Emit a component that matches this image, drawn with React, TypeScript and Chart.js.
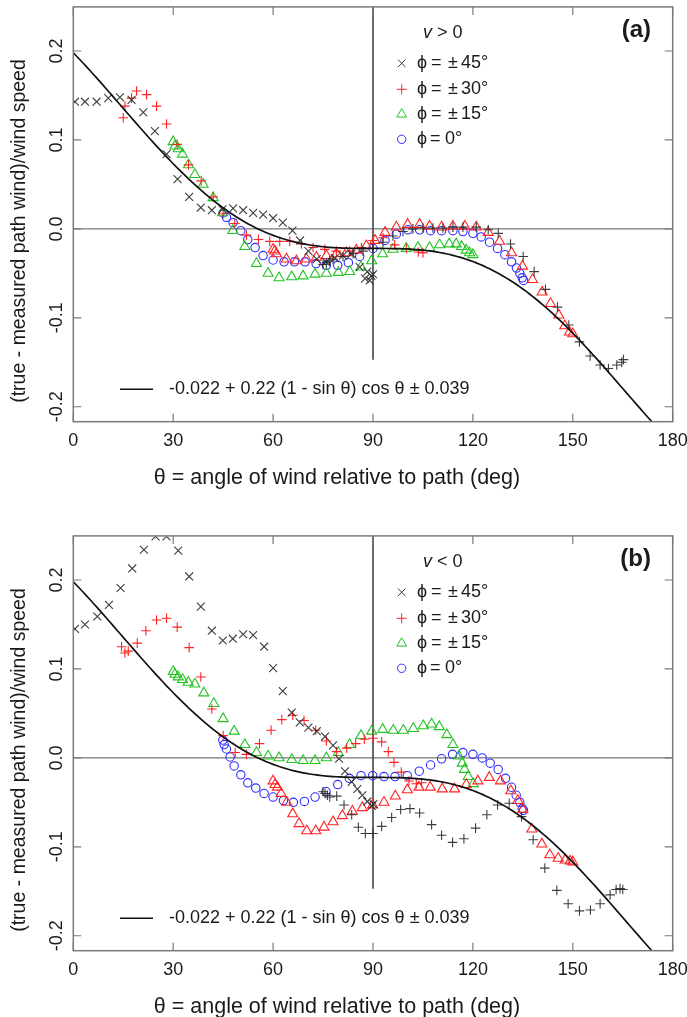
import React, { useEffect, useRef } from 'react';
import { Chart, registerables } from 'chart.js';

Chart.register(...registerables);

// ---------- axes ----------
const X_MIN = 0;
const X_MAX = 180;
const Y_MIN = -0.2168;
const Y_MAX = 0.2496;
const X_TICKS = [0, 30, 60, 90, 120, 150, 180];
const Y_TICKS = [-0.2, -0.1, 0, 0.1, 0.2];
const Y_TICK_LABELS = ['-0.2', '-0.1', '0.0', '0.1', '0.2'];
const X_TITLE = 'θ = angle of wind relative to path (deg)';
const Y_TITLE = '(true - measured path wind)/wind speed';
const VLINE_BOTTOM = -0.147;

// ---------- fitted model: a + b (1 - sin θ) cos θ ± sd ----------
const FIT_A = -0.022;
const FIT_B = 0.22;
const FIT_SD = 0.039;
const FIT_LABEL = `${FIT_A} + ${FIT_B} (1 - sin θ) cos θ ± ${FIT_SD}`;

// ---------- legend ----------
const LEGEND_ITEMS = ['± 45°', '± 30°', '± 15°', '0°'];

// ---------- panel (a): v > 0 ----------
const A_X45_T = [0.5, 3.5, 7, 10.5, 14, 17.5, 21, 24.5, 28, 31.3, 34.8, 38.3, 41.6, 44.8, 48, 51, 54, 57, 60, 62.9, 65.8, 68.1, 70.6, 73.1, 75.9, 78.5, 81, 83.5, 86, 87.6, 88.3, 89, 89.5, 90];
const A_X45_V = [0.143, 0.143, 0.143, 0.147, 0.148, 0.145, 0.131, 0.110, 0.084, 0.056, 0.036, 0.024, 0.021, 0.022, 0.023, 0.021, 0.018, 0.016, 0.012, 0.007, -0.002, -0.013, -0.025, -0.034, -0.037, -0.033, -0.030, -0.028, -0.043, -0.056, -0.048, -0.058, -0.053, -0.051];

const A_P45_T = [75, 76, 77, 78, 81, 84, 87, 90, 93, 96, 99, 102, 105, 108, 111, 114, 117, 121, 124.6, 127.6, 131.3, 135.1, 138.4, 141.8, 145.4, 148.8, 152, 155.2, 158.2, 160.7, 163.2, 164.7, 165.2];
const A_P45_V = [-0.040, -0.038, -0.036, -0.034, -0.031, -0.028, -0.025, -0.022, -0.015, -0.008, -0.003, 0.000, 0.001, 0.001, 0.001, 0.002, 0.002, 0.002, -0.001, -0.005, -0.017, -0.031, -0.048, -0.068, -0.088, -0.108, -0.127, -0.143, -0.153, -0.157, -0.153, -0.150, -0.147];

const A_P30_T = [15, 15.5, 17.5, 19, 22, 25, 28, 31.2, 34.6, 38.4, 42, 45, 48.5, 52, 55.6, 59, 62, 65, 68.5, 72, 75.5, 79, 83, 86.5, 90, 93, 96.5, 100, 103.6, 105];
const A_P30_V = [0.125, 0.138, 0.147, 0.155, 0.151, 0.138, 0.118, 0.095, 0.072, 0.054, 0.036, 0.017, 0.006, -0.007, -0.012, -0.014, -0.014, -0.014, -0.017, -0.021, -0.023, -0.025, -0.025, -0.021, -0.013, -0.010, -0.018, -0.022, -0.026, -0.027];

const A_T30_T = [60, 60.5, 61, 64, 67, 70, 73, 76, 79, 82, 85, 88, 90.6, 93.6, 97, 100.4, 104, 107, 110.6, 114, 117.6, 121, 124.6, 128, 131.6, 134.9, 137.9, 140.8, 143.3, 145.8, 147.6, 149, 150];
const A_T30_V = [-0.023, -0.025, -0.028, -0.034, -0.036, -0.034, -0.032, -0.030, -0.028, -0.027, -0.024, -0.019, -0.013, -0.004, 0.002, 0.005, 0.005, 0.003, 0.002, 0.003, 0.003, 0.002, -0.004, -0.014, -0.027, -0.042, -0.057, -0.071, -0.084, -0.097, -0.109, -0.116, -0.118];

const A_T15_T = [30, 30.5, 31.5, 32.8, 34.6, 36.5, 39, 42, 44.8, 47.9, 51.5, 55, 58.5, 61.8, 65.6, 69, 72.6, 76, 79.6, 83, 86.4, 89.6, 92.9, 96, 100, 103.5, 107, 110, 112.9, 115, 116.6, 118, 119, 120];
const A_T15_V = [0.098, 0.093, 0.090, 0.084, 0.072, 0.061, 0.050, 0.035, 0.018, -0.002, -0.020, -0.039, -0.050, -0.055, -0.054, -0.053, -0.051, -0.050, -0.049, -0.048, -0.043, -0.036, -0.028, -0.023, -0.022, -0.021, -0.021, -0.018, -0.017, -0.017, -0.020, -0.024, -0.027, -0.029];

const A_C0_T = [45, 46, 48, 50.3, 52.4, 54.6, 57, 60, 63.3, 66.4, 69.6, 72.9, 76, 79.4, 82.6, 86, 90, 93.6, 97, 100.5, 104, 107.3, 110.6, 114, 117, 120, 122.5, 125, 127.4, 129.6, 131.6, 133.1, 134.1, 134.8, 135.2];
const A_C0_V = [0.018, 0.013, 0.007, -0.002, -0.012, -0.021, -0.030, -0.035, -0.037, -0.037, -0.037, -0.039, -0.041, -0.041, -0.038, -0.031, -0.022, -0.013, -0.006, -0.001, -0.001, -0.002, -0.002, -0.002, -0.003, -0.005, -0.009, -0.015, -0.022, -0.029, -0.037, -0.044, -0.050, -0.055, -0.058];

// ---------- panel (b): v < 0 ----------
const B_X45_T = [0.5, 3.5, 7.2, 10.7, 14.2, 17.7, 21.2, 24.7, 28, 31.5, 34.8, 38.3, 41.6, 44.9, 47.9, 51, 54, 57.3, 60, 62.9, 65.6, 68, 70.6, 73.1, 75.6, 78, 79.8, 81.6, 83.6, 85.3, 86.8, 88.3, 89.6, 90.1];
const B_X45_V = [0.145, 0.150, 0.159, 0.172, 0.191, 0.213, 0.234, 0.249, 0.249, 0.233, 0.204, 0.170, 0.143, 0.132, 0.134, 0.139, 0.138, 0.125, 0.101, 0.075, 0.051, 0.040, 0.034, 0.030, 0.024, 0.014, -0.001, -0.015, -0.027, -0.035, -0.042, -0.049, -0.054, -0.052];

const B_P45_T = [75, 75.6, 76.3, 77, 79.1, 81.3, 83.6, 85.6, 87.7, 90, 92.6, 95.6, 98.3, 101.1, 104, 107.6, 110.6, 113.9, 117.3, 120.8, 124.2, 127.4, 130.9, 134.6, 138.1, 141.6, 145.2, 148.6, 152, 155.3, 158.2, 161.2, 163, 164.2, 165];
const B_P45_V = [-0.038, -0.040, -0.042, -0.044, -0.043, -0.053, -0.064, -0.078, -0.085, -0.085, -0.077, -0.067, -0.058, -0.057, -0.062, -0.075, -0.087, -0.095, -0.091, -0.079, -0.064, -0.053, -0.051, -0.066, -0.092, -0.124, -0.149, -0.164, -0.172, -0.171, -0.164, -0.154, -0.148, -0.147, -0.148];

const B_P30_T = [14.5, 15.5, 16.5, 19.2, 21.8, 25, 28, 31.2, 34.8, 38.3, 41.6, 45, 48.6, 52, 55.9, 59.4, 62.6, 65.9, 69.3, 72.8, 76, 79.1, 82.1, 84.8, 87.4, 90, 92.6, 94.6, 96.3, 98.5, 100.8, 103, 104.6];
const B_P30_V = [0.125, 0.118, 0.120, 0.129, 0.143, 0.155, 0.157, 0.147, 0.124, 0.091, 0.055, 0.025, 0.006, 0.004, 0.016, 0.031, 0.043, 0.048, 0.042, 0.031, 0.019, 0.007, 0.011, 0.016, 0.021, 0.022, 0.018, 0.007, -0.005, -0.016, -0.026, -0.029, -0.028];

const B_T30_T = [60, 60.6, 61.3, 62.4, 64.1, 65.9, 67.8, 70.1, 72.8, 75.3, 78, 80.8, 83.8, 86.8, 89.9, 93.3, 96.7, 100.3, 103.8, 107.2, 110.8, 114.5, 118, 121.5, 124.9, 128.3, 131.4, 133.5, 135, 137.7, 140.7, 143.1, 145.6, 147.7, 149.2, 150];
const B_T30_V = [-0.026, -0.030, -0.033, -0.040, -0.050, -0.063, -0.074, -0.082, -0.082, -0.078, -0.072, -0.065, -0.060, -0.056, -0.053, -0.050, -0.043, -0.036, -0.033, -0.033, -0.035, -0.035, -0.030, -0.026, -0.022, -0.026, -0.037, -0.048, -0.058, -0.080, -0.097, -0.109, -0.113, -0.115, -0.116, -0.117];

const B_T15_T = [30, 30.5, 31.5, 32.8, 34.5, 36.5, 39.2, 42.2, 45, 48.3, 51.5, 55, 58.5, 61.8, 65.6, 69, 72.6, 76, 79.6, 83, 86.4, 89.6, 92.9, 96.1, 99.1, 102.1, 105.1, 107.6, 109.9, 112.2, 114, 115.8, 116.8, 117.5, 118.6, 120.1];
const B_T15_V = [0.097, 0.094, 0.091, 0.088, 0.085, 0.083, 0.073, 0.061, 0.044, 0.030, 0.015, 0.006, 0.002, 0.000, -0.002, -0.003, -0.003, 0.000, 0.006, 0.015, 0.025, 0.030, 0.032, 0.031, 0.031, 0.033, 0.036, 0.038, 0.035, 0.026, 0.015, 0.002, -0.006, -0.013, -0.021, -0.029];

const B_C0_T = [44.9, 45.3, 46, 47.1, 48.3, 50.3, 52.4, 54.8, 57.3, 60, 63.1, 66.1, 69.4, 72.6, 75.9, 79.4, 82.9, 86.4, 89.9, 93.3, 96.6, 100.3, 103.9, 107.3, 110.6, 113.9, 117, 120, 122.8, 125.2, 127.6, 129.8, 131.6, 133, 134.1, 134.8, 135.2];
const B_C0_V = [0.020, 0.015, 0.010, 0.001, -0.009, -0.019, -0.028, -0.034, -0.040, -0.044, -0.048, -0.050, -0.049, -0.044, -0.038, -0.030, -0.023, -0.020, -0.020, -0.021, -0.021, -0.020, -0.015, -0.008, -0.001, 0.004, 0.006, 0.004, 0.000, -0.006, -0.013, -0.023, -0.033, -0.042, -0.050, -0.057, -0.059];

// ---------- look ----------
const W = 687;
const H = 490;
const FONT = "'Liberation Sans', Arial, 'DejaVu Sans', sans-serif";
const TEXT = '#1a1a1a';
const FRAME = '#7a7a7a';
const BLACK = 'rgba(40,40,40,0.9)';
const RED = 'rgb(255,35,35)';
const GREEN = 'rgb(35,195,35)';
const BLUE = 'rgb(45,45,255)';

type Series = { t: number[]; v: number[]; style: string; color: string; radius: number };

const zip = (t: number[], v: number[]) => t.map((x, i) => ({ x, y: v[i] }));

function fitCurve() {
  const pts: { x: number; y: number }[] = [];
  for (let d = X_MIN; d <= X_MAX; d += 1) {
    const r = (d * Math.PI) / 180;
    pts.push({ x: d, y: FIT_A + FIT_B * (1 - Math.sin(r)) * Math.cos(r) });
  }
  return pts;
}

function drawMarker(ctx: CanvasRenderingContext2D, style: string, x: number, y: number, color: string) {
  ctx.save();
  ctx.strokeStyle = color;
  ctx.lineWidth = 1;
  ctx.beginPath();
  if (style === 'crossRot') {
    const d = 3.8;
    ctx.moveTo(x - d, y - d); ctx.lineTo(x + d, y + d);
    ctx.moveTo(x - d, y + d); ctx.lineTo(x + d, y - d);
  } else if (style === 'cross') {
    const d = 5;
    ctx.moveTo(x - d, y); ctx.lineTo(x + d, y);
    ctx.moveTo(x, y - d); ctx.lineTo(x, y + d);
  } else if (style === 'triangle') {
    const r = 5.6;
    ctx.moveTo(x, y - r);
    ctx.lineTo(x + r * 0.866, y + r / 2);
    ctx.lineTo(x - r * 0.866, y + r / 2);
    ctx.closePath();
  } else {
    ctx.arc(x, y, 4.2, 0, Math.PI * 2);
  }
  ctx.stroke();
  ctx.restore();
}

function txt(ctx: CanvasRenderingContext2D, s: string, x: number, y: number, font: string, align: CanvasTextAlign = 'center') {
  ctx.font = font;
  ctx.fillStyle = TEXT;
  ctx.textAlign = align;
  ctx.textBaseline = 'middle';
  ctx.fillText(s, x, y);
}

function makeDecor(tag: string, sign: string) {
  return {
    id: 'decor-' + tag,
    afterDatasetsDraw(chart: any) {
      const ctx: CanvasRenderingContext2D = chart.ctx;
      const xs = chart.scales.x;
      const ys = chart.scales.y;
      const a = chart.chartArea;
      ctx.save();
      // frame
      ctx.strokeStyle = FRAME;
      ctx.lineWidth = 1.5;
      ctx.strokeRect(a.left, a.top, a.right - a.left, a.bottom - a.top);
      // inward ticks on all four sides
      ctx.lineWidth = 1.2;
      ctx.beginPath();
      const tl = 8;
      X_TICKS.forEach((t) => {
        const px = xs.getPixelForValue(t);
        ctx.moveTo(px, a.bottom); ctx.lineTo(px, a.bottom - tl);
        ctx.moveTo(px, a.top); ctx.lineTo(px, a.top + tl);
      });
      Y_TICKS.forEach((t) => {
        const py = ys.getPixelForValue(t);
        ctx.moveTo(a.left, py); ctx.lineTo(a.left + tl, py);
        ctx.moveTo(a.right, py); ctx.lineTo(a.right - tl, py);
      });
      ctx.stroke();

      // tick labels
      X_TICKS.forEach((t) => {
        txt(ctx, String(t), xs.getPixelForValue(t), a.bottom + 19, `18px ${FONT}`);
      });
      Y_TICKS.forEach((t, i) => {
        const py = ys.getPixelForValue(t);
        ctx.save();
        ctx.translate(57, py);
        ctx.rotate(-Math.PI / 2);
        txt(ctx, Y_TICK_LABELS[i], 0, 0, `18px ${FONT}`);
        ctx.restore();
      });
      // axis titles
      txt(ctx, X_TITLE, 337, a.bottom + 56, `21.5px ${FONT}`);
      ctx.save();
      ctx.translate(20, 231);
      ctx.rotate(-Math.PI / 2);
      txt(ctx, Y_TITLE, 0, 0, `19.5px ${FONT}`);
      ctx.restore();

      // panel tag
      txt(ctx, tag, 651, 30, `bold 24px ${FONT}`, 'right');

      // legend (upper)
      txt(ctx, 'v', 423, 33, `italic 18px ${FONT}`, 'left');
      const vw = ctx.measureText('v').width;
      txt(ctx, ` ${sign} 0`, 423 + vw, 33, `18px ${FONT}`, 'left');
      const styles = ['crossRot', 'cross', 'triangle', 'circle'];
      const colors = [BLACK, RED, GREEN, BLUE];
      const rows = [63.3, 89.3, 114.3, 139.3];
      rows.forEach((ry, i) => {
        drawMarker(ctx, styles[i], 401.7, ry, colors[i]);
        txt(ctx, 'ϕ', 417, ry, `18px ${FONT}`, 'left');
        if (i < 3) {
          txt(ctx, '=', 431, ry, `18px ${FONT}`, 'left');
          txt(ctx, LEGEND_ITEMS[i].slice(0, 1), 448, ry, `18px ${FONT}`, 'left');
          txt(ctx, LEGEND_ITEMS[i].slice(2), 461, ry, `18px ${FONT}`, 'left');
        } else {
          txt(ctx, '=', 430, ry, `18px ${FONT}`, 'left');
          txt(ctx, LEGEND_ITEMS[i], 445, ry, `18px ${FONT}`, 'left');
        }
      });

      // legend (fit line)
      ctx.strokeStyle = '#111';
      ctx.lineWidth = 1.6;
      ctx.beginPath();
      ctx.moveTo(120, 389.3);
      ctx.lineTo(153, 389.3);
      ctx.stroke();
      txt(ctx, FIT_LABEL, 169, 389.3, `18px ${FONT}`, 'left');
      ctx.restore();
    },
  };
}

function Panel({ tag, sign, series }: { tag: string; sign: string; series: Series[] }) {
  const ref = useRef<HTMLCanvasElement | null>(null);
  useEffect(() => {
    if (!ref.current) return;
    const pointSets = series.map((s, i) => ({
      type: 'scatter' as const,
      data: zip(s.t, s.v),
      showLine: false,
      pointStyle: s.style,
      pointRadius: s.radius,
      pointBorderColor: s.color,
      pointBackgroundColor: 'rgba(0,0,0,0)',
      pointBorderWidth: 1.1,
      order: 2 + i,
    }));
    const chart = new Chart(ref.current, {
      type: 'scatter',
      data: {
        datasets: [
          {
            type: 'line',
            data: fitCurve(),
            borderColor: '#111',
            borderWidth: 1.7,
            pointRadius: 0,
            showLine: true,
            fill: false,
            tension: 0,
            order: 0,
          },
          {
            type: 'line',
            data: [{ x: X_MIN, y: 0 }, { x: X_MAX, y: 0 }],
            borderColor: '#555',
            borderWidth: 1,
            pointRadius: 0,
            showLine: true,
            order: 50,
          },
          {
            type: 'line',
            data: [{ x: 90, y: Y_MAX }, { x: 90, y: VLINE_BOTTOM }],
            borderColor: '#555',
            borderWidth: 1,
            pointRadius: 0,
            showLine: true,
            order: 51,
          },
          ...pointSets,
        ] as any,
      },
      options: {
        animation: false,
        responsive: false,
        maintainAspectRatio: false,
        events: [],
        layout: { padding: { top: 5, right: 14.3, left: 0, bottom: 0 } },
        plugins: { legend: { display: false }, tooltip: { enabled: false } },
        scales: {
          x: {
            type: 'linear',
            min: X_MIN,
            max: X_MAX,
            grid: { display: false },
            border: { display: false },
            ticks: { display: false, stepSize: 30 },
            afterFit: (s: any) => { s.height = H - 421.7; },
          },
          y: {
            type: 'linear',
            min: Y_MIN,
            max: Y_MAX,
            grid: { display: false },
            border: { display: false },
            ticks: { display: false, stepSize: 0.1 },
            afterFit: (s: any) => { s.width = 73.3; },
          },
        },
      } as any,
      plugins: [makeDecor(tag, sign)],
    });
    return () => chart.destroy();
  }, [tag, sign, series]);
  return <canvas ref={ref} width={W} height={H} style={{ display: 'block', width: W, height: H }} />;
}

const SERIES_A: Series[] = [
  { t: A_X45_T, v: A_X45_V, style: 'crossRot', color: BLACK, radius: 5.6 },
  { t: A_P45_T, v: A_P45_V, style: 'cross', color: BLACK, radius: 4.8 },
  { t: A_P30_T, v: A_P30_V, style: 'cross', color: RED, radius: 4.8 },
  { t: A_T30_T, v: A_T30_V, style: 'triangle', color: RED, radius: 5.8 },
  { t: A_T15_T, v: A_T15_V, style: 'triangle', color: GREEN, radius: 5.8 },
  { t: A_C0_T, v: A_C0_V, style: 'circle', color: BLUE, radius: 4.2 },
];

const SERIES_B: Series[] = [
  { t: B_X45_T, v: B_X45_V, style: 'crossRot', color: BLACK, radius: 5.6 },
  { t: B_P45_T, v: B_P45_V, style: 'cross', color: BLACK, radius: 4.8 },
  { t: B_P30_T, v: B_P30_V, style: 'cross', color: RED, radius: 4.8 },
  { t: B_T30_T, v: B_T30_V, style: 'triangle', color: RED, radius: 5.8 },
  { t: B_T15_T, v: B_T15_V, style: 'triangle', color: GREEN, radius: 5.8 },
  { t: B_C0_T, v: B_C0_V, style: 'circle', color: BLUE, radius: 4.2 },
];

export default function App() {
  return (
    <div style={{ position: 'absolute', left: 0, top: 0, width: W, height: 1017, background: '#fff' }}>
      <div style={{ position: 'absolute', left: 0, top: 0 }}>
        <Panel tag="(a)" sign=">" series={SERIES_A} />
      </div>
      <div style={{ position: 'absolute', left: 0, top: 529 }}>
        <Panel tag="(b)" sign="<" series={SERIES_B} />
      </div>
    </div>
  );
}
